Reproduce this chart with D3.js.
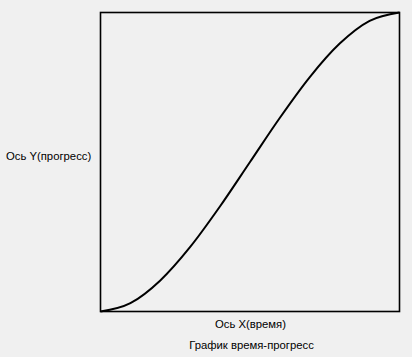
<!DOCTYPE html>
<html><head><meta charset="utf-8">
<script src="https://cdn.jsdelivr.net/npm/d3@7"></script>
<style>html,body{margin:0;padding:0;background:#f0f0f0;}svg{display:block;}</style>
</head><body>
<svg id="c" width="412" height="357"></svg>
<script>
const time =     [0, 0.1, 0.2, 0.3, 0.4, 0.5, 0.6, 0.7, 0.8, 0.9, 1];
const progress = [0, 0.028, 0.104, 0.216, 0.352, 0.5, 0.648, 0.784, 0.896, 0.972, 1];
const xLabel = "Ось X(время)";
const yLabel = "Ось Y(прогресс)";
const title = "График время-прогресс";

const svg = d3.select("#c");
const L = 100.5, R = 399.5, T = 12.5, B = 311.5;
const x = d3.scaleLinear().domain([0, 1]).range([L, R]);
const y = d3.scaleLinear().domain([0, 1]).range([B, T]);

svg.append("rect").attr("x", L).attr("y", T).attr("width", R - L).attr("height", B - T)
  .attr("fill", "#f0f0f0").attr("stroke", "#000").attr("stroke-width", 1.6);

const line = d3.line().x((d, i) => x(time[i])).y(d => y(d)).curve(d3.curveMonotoneX);
svg.append("path").datum(progress).attr("d", line)
  .attr("fill", "none").attr("stroke", "#000").attr("stroke-width", 2);

const font = "'Liberation Sans', Arial, sans-serif";
const fs = 11.3;
svg.append("text").attr("x", 250.5).attr("y", 328).attr("text-anchor", "middle")
  .attr("font-family", font).attr("font-size", fs).attr("fill", "#000").text(xLabel);
svg.append("text").attr("x", 251.5).attr("y", 349).attr("text-anchor", "middle")
  .attr("font-family", font).attr("font-size", fs).attr("fill", "#000").text(title);
svg.append("text").attr("x", 6).attr("y", 160)
  .attr("font-family", font).attr("font-size", fs).attr("fill", "#000").text(yLabel);
</script>
</body></html>
